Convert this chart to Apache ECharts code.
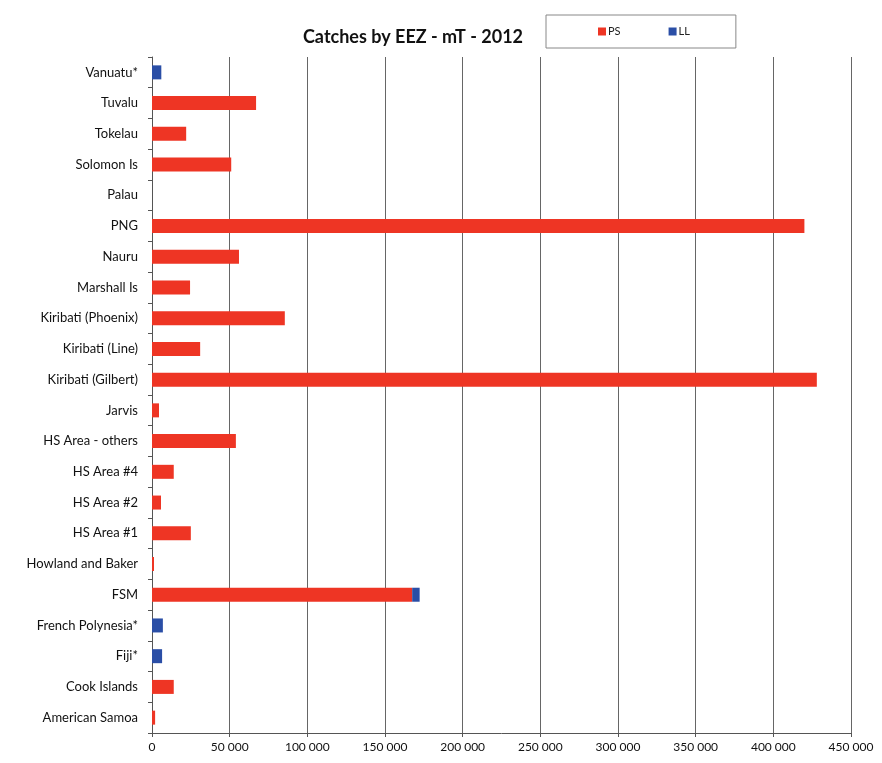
<!DOCTYPE html>
<html><head><meta charset="utf-8">
<script src="https://cdn.jsdelivr.net/npm/echarts@6/dist/echarts.min.js"></script>
<style>html,body{margin:0;padding:0;background:#fff}#c{width:882px;height:763px}</style>
</head><body><div id="c"></div>
<script>
const categories = ["American Samoa","Cook Islands","Fiji*","French Polynesia*","FSM","Howland and Baker","HS Area #1","HS Area #2","HS Area #4","HS Area - others","Jarvis","Kiribati (Gilbert)","Kiribati (Line)","Kiribati (Phoenix)","Marshall Is","Nauru","PNG","Palau","Solomon Is","Tokelau","Tuvalu","Vanuatu*"];
const psValues = [2000,14000,0,0,167500,1300,25000,5800,14000,54000,4500,428000,31000,85500,24500,56000,420000,0,51000,22000,67000,0];
const llValues = [0,0,6500,7000,4800,0,0,0,0,0,0,0,0,0,0,0,0,0,0,0,0,6000];
const xTicks = [0,50000,100000,150000,200000,250000,300000,350000,400000,450000];

const fmt = v => v === 0 ? "0" : String(v).replace(/\B(?=(\d{3})+(?!\d))/g, " ");
const chart = echarts.init(document.getElementById('c'));
chart.setOption({
  animation:false,
  textStyle:{fontFamily:"Lato, 'Open Sans', sans-serif"},
  title:{text:"Catches by EEZ - mT - 2012", left:408, top:23, textAlign:'center',
    textStyle:{fontSize:18,fontWeight:'bold',color:'#111',fontFamily:"Lato, sans-serif"}},
  legend:{left:546, top:15, padding:[11,46,11,52], itemGap:48, itemWidth:8, itemHeight:8,
    borderColor:'#888', borderWidth:1, icon:'rect',
    textStyle:{fontSize:11,color:'#222',padding:[0,0,0,-3]},
    data:['PS','LL']},
  grid:{left:152, right:31, top:57, bottom:30, containLabel:false},
  xAxis:{type:'value', min:0, max:450000, interval:50000,
    axisLine:{show:true,lineStyle:{color:'#555',width:1}},
    axisTick:{show:true,length:4,lineStyle:{color:'#555'}},
    axisLabel:{formatter:fmt, fontSize:12, color:'#111', margin:8},
    splitLine:{show:true,lineStyle:{color:'#666',width:1}}},
  yAxis:{type:'category', data:categories,
    axisLine:{show:true,lineStyle:{color:'#555'}},
    axisTick:{show:true,length:4,inside:false,lineStyle:{color:'#555'}},
    axisLabel:{fontSize:13,color:'#111',margin:14}},
  series:[
    {name:'PS',type:'bar',stack:'t',data:psValues,barWidth:14,itemStyle:{color:'#ee3524'}},
    {name:'LL',type:'bar',stack:'t',data:llValues,barWidth:14,itemStyle:{color:'#2a4ea6'}}
  ]
});
</script></body></html>
